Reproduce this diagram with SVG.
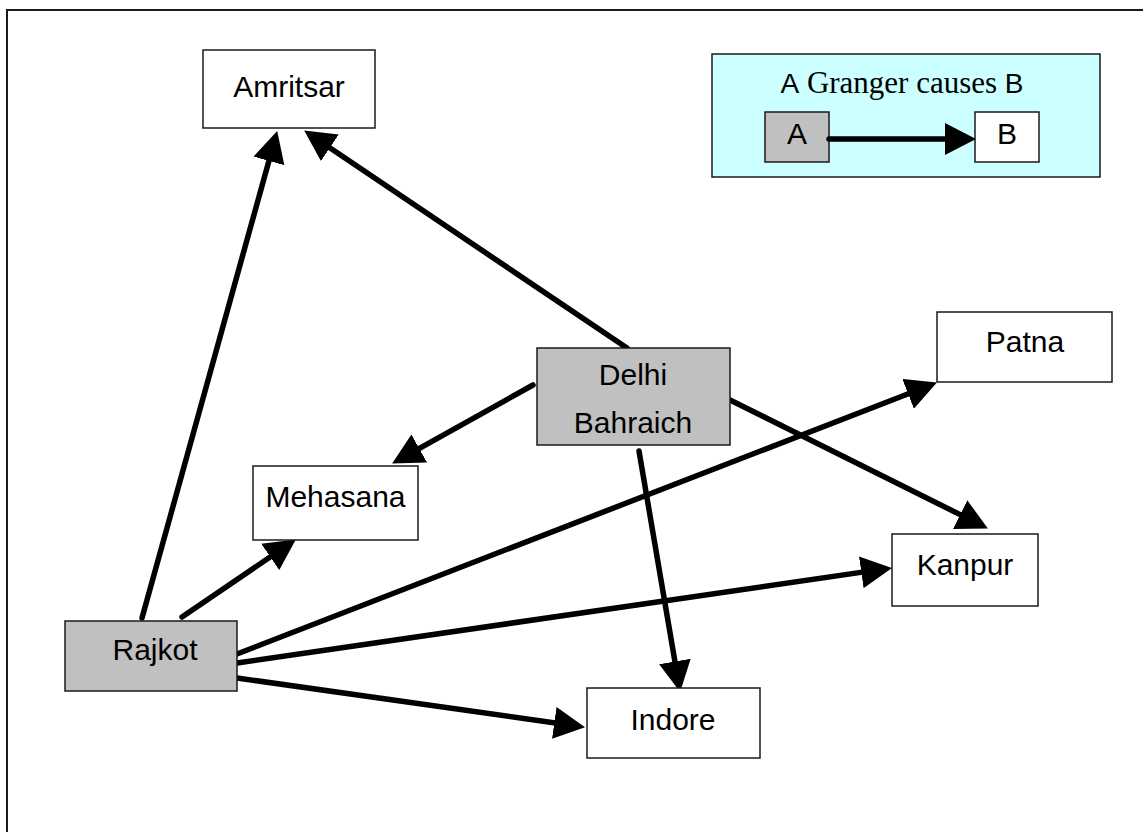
<svg xmlns="http://www.w3.org/2000/svg" width="1143" height="832" viewBox="0 0 1143 832">
<style>
.node{stroke:#1a1a1a;stroke-width:1.5}
.plain{fill:#ffffff}
.src{fill:#c0c0c0}
.lbl{font-family:"Liberation Sans",Arial,sans-serif;font-size:30px;fill:#000;text-anchor:middle}
.edge{stroke:#000;stroke-width:5.5;fill:none;stroke-linecap:round}
</style>
<defs>
<marker id="ah" markerUnits="userSpaceOnUse" markerWidth="32" markerHeight="32" refX="10" refY="16" orient="auto">
<path d="M0,0 L31,16 L0,32 z" fill="#000"/>
</marker>
</defs>
<rect x="0" y="0" width="1143" height="832" fill="#fff"/>
<rect x="7" y="10" width="1200" height="900" fill="none" stroke="#1a1a1a" stroke-width="2"/>

<g id="legend">
<rect x="712" y="54" width="388" height="123" fill="#ccffff" stroke="#1a1a1a" stroke-width="1.5"/>
<text x="902" y="93" text-anchor="middle" fill="#000"><tspan font-family="Liberation Sans,Arial,sans-serif" font-size="28">A</tspan><tspan font-family="Liberation Serif,Times New Roman,serif" font-size="31"> Granger causes </tspan><tspan font-family="Liberation Sans,Arial,sans-serif" font-size="28">B</tspan></text>
<rect class="node src" x="765" y="112" width="64" height="50"/>
<text class="lbl" x="797" y="144">A</text>
<rect class="node plain" x="975" y="112" width="64" height="50"/>
<text class="lbl" x="1007" y="144">B</text>
<line class="edge" x1="829" y1="139" x2="955" y2="139" marker-end="url(#ah)"/>
</g>

<g id="connectors">
<line class="edge" x1="142" y1="618" x2="271.6" y2="151.3" marker-end="url(#ah)"/>
<line class="edge" x1="627" y1="348" x2="321.6" y2="142.2" marker-end="url(#ah)"/>
<line class="edge" x1="533" y1="385" x2="410.5" y2="453.3" marker-end="url(#ah)"/>
<line class="edge" x1="730" y1="400" x2="969.1" y2="519.1" marker-end="url(#ah)"/>
<line class="edge" x1="639" y1="451" x2="676.6" y2="671.3" marker-end="url(#ah)"/>
<line class="edge" x1="237" y1="654" x2="917.4" y2="390.2" marker-end="url(#ah)"/>
<line class="edge" x1="237" y1="663" x2="871.2" y2="570.9" marker-end="url(#ah)"/>
<line class="edge" x1="237" y1="678" x2="564.2" y2="724.2" marker-end="url(#ah)"/>
<line class="edge" x1="182" y1="617" x2="278.5" y2="551.3" marker-end="url(#ah)"/>
</g>

<g id="amritsar">
<rect class="node plain" x="203" y="50" width="172" height="78"/>
<text class="lbl" x="289" y="97">Amritsar</text>
</g>
<g id="delhi">
<rect class="node src" x="537" y="348" width="193" height="97"/>
<text class="lbl" x="633" y="385">Delhi</text>
<text class="lbl" x="633" y="433">Bahraich</text>
</g>
<g id="patna">
<rect class="node plain" x="937" y="312" width="175" height="70"/>
<text class="lbl" x="1025" y="352">Patna</text>
</g>
<g id="mehasana">
<rect class="node plain" x="253" y="466" width="165" height="74"/>
<text class="lbl" x="335.5" y="507">Mehasana</text>
</g>
<g id="kanpur">
<rect class="node plain" x="892" y="534" width="146" height="72"/>
<text class="lbl" x="965" y="575">Kanpur</text>
</g>
<g id="rajkot">
<rect class="node src" x="65" y="621" width="172" height="70"/>
<text class="lbl" x="155" y="660">Rajkot</text>
</g>
<g id="indore">
<rect class="node plain" x="587" y="688" width="173" height="70"/>
<text class="lbl" x="673" y="730">Indore</text>
</g>
</svg>
